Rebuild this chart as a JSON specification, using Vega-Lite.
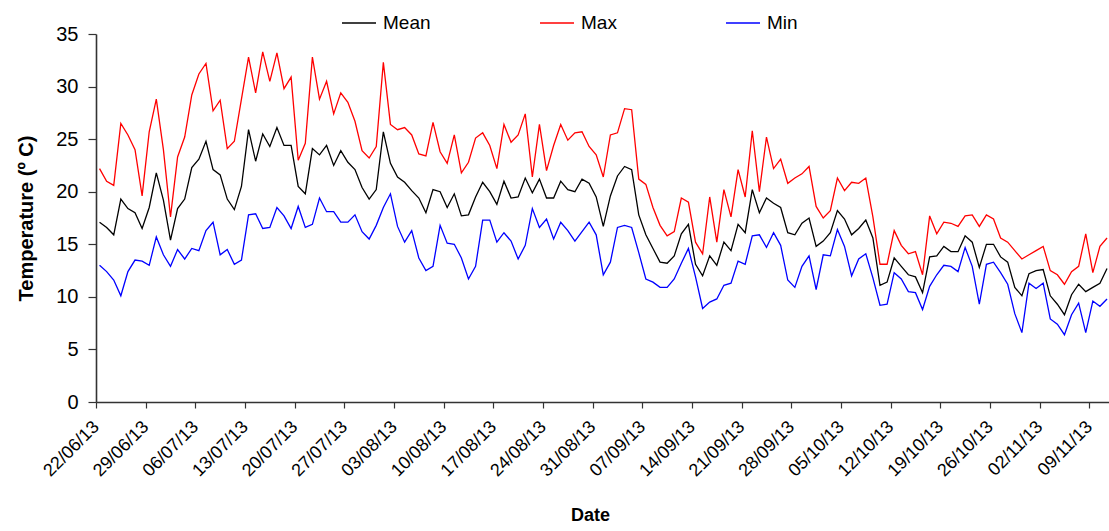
{
 "$schema": "https://vega.github.io/schema/vega-lite/v6.json",
 "width": 1013,
 "height": 368,
 "autosize": {"type": "none"},
 "padding": {"left": 96, "top": 34, "right": 0, "bottom": 129},
 "background": "white",
 "config": {"view": {"stroke": null}, "font": "Liberation Sans"},
 "data": {"values": [
  {"d":"2013-06-22T12:00","Mean":17.1,"Max":22.2,"Min":13.0},
  {"d":"2013-06-23T12:00","Mean":16.6,"Max":21.0,"Min":12.4},
  {"d":"2013-06-24T12:00","Mean":15.9,"Max":20.6,"Min":11.6},
  {"d":"2013-06-25T12:00","Mean":19.3,"Max":26.5,"Min":10.1},
  {"d":"2013-06-26T12:00","Mean":18.4,"Max":25.4,"Min":12.4},
  {"d":"2013-06-27T12:00","Mean":18.0,"Max":24.0,"Min":13.5},
  {"d":"2013-06-28T12:00","Mean":16.5,"Max":19.6,"Min":13.4},
  {"d":"2013-06-29T12:00","Mean":18.5,"Max":25.7,"Min":13.0},
  {"d":"2013-06-30T12:00","Mean":21.8,"Max":28.8,"Min":15.7},
  {"d":"2013-07-01T12:00","Mean":19.2,"Max":24.0,"Min":14.0},
  {"d":"2013-07-02T12:00","Mean":15.4,"Max":17.6,"Min":12.9},
  {"d":"2013-07-03T12:00","Mean":18.4,"Max":23.3,"Min":14.5},
  {"d":"2013-07-04T12:00","Mean":19.3,"Max":25.2,"Min":13.6},
  {"d":"2013-07-05T12:00","Mean":22.3,"Max":29.2,"Min":14.6},
  {"d":"2013-07-06T12:00","Mean":23.1,"Max":31.2,"Min":14.4},
  {"d":"2013-07-07T12:00","Mean":24.8,"Max":32.2,"Min":16.3},
  {"d":"2013-07-08T12:00","Mean":22.1,"Max":27.7,"Min":17.1},
  {"d":"2013-07-09T12:00","Mean":21.6,"Max":28.7,"Min":14.0},
  {"d":"2013-07-10T12:00","Mean":19.3,"Max":24.1,"Min":14.5},
  {"d":"2013-07-11T12:00","Mean":18.3,"Max":24.8,"Min":13.1},
  {"d":"2013-07-12T12:00","Mean":20.5,"Max":28.8,"Min":13.5},
  {"d":"2013-07-13T12:00","Mean":25.9,"Max":32.8,"Min":17.8},
  {"d":"2013-07-14T12:00","Mean":22.9,"Max":29.4,"Min":17.9},
  {"d":"2013-07-15T12:00","Mean":25.5,"Max":33.3,"Min":16.5},
  {"d":"2013-07-16T12:00","Mean":24.3,"Max":30.5,"Min":16.6},
  {"d":"2013-07-17T12:00","Mean":26.1,"Max":33.2,"Min":18.5},
  {"d":"2013-07-18T12:00","Mean":24.4,"Max":29.8,"Min":17.7},
  {"d":"2013-07-19T12:00","Mean":24.4,"Max":30.9,"Min":16.5},
  {"d":"2013-07-20T12:00","Mean":20.5,"Max":23.0,"Min":18.6},
  {"d":"2013-07-21T12:00","Mean":19.8,"Max":24.6,"Min":16.6},
  {"d":"2013-07-22T12:00","Mean":24.1,"Max":32.8,"Min":16.9},
  {"d":"2013-07-23T12:00","Mean":23.5,"Max":28.8,"Min":19.4},
  {"d":"2013-07-24T12:00","Mean":24.4,"Max":30.5,"Min":18.1},
  {"d":"2013-07-25T12:00","Mean":22.5,"Max":27.4,"Min":18.1},
  {"d":"2013-07-26T12:00","Mean":23.9,"Max":29.4,"Min":17.1},
  {"d":"2013-07-27T12:00","Mean":22.8,"Max":28.5,"Min":17.1},
  {"d":"2013-07-28T12:00","Mean":22.1,"Max":26.7,"Min":17.8},
  {"d":"2013-07-29T12:00","Mean":20.4,"Max":23.9,"Min":16.2},
  {"d":"2013-07-30T12:00","Mean":19.3,"Max":23.2,"Min":15.5},
  {"d":"2013-07-31T12:00","Mean":20.2,"Max":24.3,"Min":16.8},
  {"d":"2013-08-01T12:00","Mean":25.7,"Max":32.3,"Min":18.5},
  {"d":"2013-08-02T12:00","Mean":22.7,"Max":26.4,"Min":19.8},
  {"d":"2013-08-03T12:00","Mean":21.4,"Max":25.9,"Min":16.7},
  {"d":"2013-08-04T12:00","Mean":20.9,"Max":26.1,"Min":15.2},
  {"d":"2013-08-05T12:00","Mean":20.1,"Max":25.4,"Min":16.3},
  {"d":"2013-08-06T12:00","Mean":19.4,"Max":23.6,"Min":13.7},
  {"d":"2013-08-07T12:00","Mean":18.0,"Max":23.4,"Min":12.5},
  {"d":"2013-08-08T12:00","Mean":20.2,"Max":26.6,"Min":12.9},
  {"d":"2013-08-09T12:00","Mean":20.0,"Max":23.8,"Min":16.8},
  {"d":"2013-08-10T12:00","Mean":18.5,"Max":22.7,"Min":15.1},
  {"d":"2013-08-11T12:00","Mean":19.8,"Max":25.4,"Min":15.0},
  {"d":"2013-08-12T12:00","Mean":17.7,"Max":21.8,"Min":13.7},
  {"d":"2013-08-13T12:00","Mean":17.8,"Max":22.8,"Min":11.7},
  {"d":"2013-08-14T12:00","Mean":19.5,"Max":25.1,"Min":12.9},
  {"d":"2013-08-15T12:00","Mean":20.9,"Max":25.6,"Min":17.3},
  {"d":"2013-08-16T12:00","Mean":20.0,"Max":24.4,"Min":17.3},
  {"d":"2013-08-17T12:00","Mean":18.8,"Max":22.2,"Min":15.2},
  {"d":"2013-08-18T12:00","Mean":21.0,"Max":26.4,"Min":16.1},
  {"d":"2013-08-19T12:00","Mean":19.4,"Max":24.7,"Min":15.3},
  {"d":"2013-08-20T12:00","Mean":19.5,"Max":25.4,"Min":13.6},
  {"d":"2013-08-21T12:00","Mean":21.3,"Max":27.4,"Min":14.9},
  {"d":"2013-08-22T12:00","Mean":19.9,"Max":21.4,"Min":18.4},
  {"d":"2013-08-23T12:00","Mean":21.2,"Max":26.4,"Min":16.6},
  {"d":"2013-08-24T12:00","Mean":19.4,"Max":22.0,"Min":17.4},
  {"d":"2013-08-25T12:00","Mean":19.4,"Max":24.4,"Min":15.5},
  {"d":"2013-08-26T12:00","Mean":21.0,"Max":26.4,"Min":17.1},
  {"d":"2013-08-27T12:00","Mean":20.2,"Max":24.9,"Min":16.3},
  {"d":"2013-08-28T12:00","Mean":20.0,"Max":25.6,"Min":15.3},
  {"d":"2013-08-29T12:00","Mean":21.2,"Max":25.7,"Min":16.2},
  {"d":"2013-08-30T12:00","Mean":20.8,"Max":24.3,"Min":17.1},
  {"d":"2013-08-31T12:00","Mean":19.5,"Max":23.5,"Min":15.9},
  {"d":"2013-09-01T12:00","Mean":16.7,"Max":21.4,"Min":12.1},
  {"d":"2013-09-02T12:00","Mean":19.6,"Max":25.4,"Min":13.3},
  {"d":"2013-09-03T12:00","Mean":21.5,"Max":25.6,"Min":16.6},
  {"d":"2013-09-04T12:00","Mean":22.4,"Max":27.9,"Min":16.8},
  {"d":"2013-09-05T12:00","Mean":22.1,"Max":27.8,"Min":16.6},
  {"d":"2013-09-06T12:00","Mean":17.8,"Max":21.2,"Min":14.2},
  {"d":"2013-09-07T12:00","Mean":15.9,"Max":20.7,"Min":11.7},
  {"d":"2013-09-08T12:00","Mean":14.6,"Max":18.5,"Min":11.4},
  {"d":"2013-09-09T12:00","Mean":13.3,"Max":16.8,"Min":10.9},
  {"d":"2013-09-10T12:00","Mean":13.2,"Max":15.8,"Min":10.9},
  {"d":"2013-09-11T12:00","Mean":13.9,"Max":16.2,"Min":11.7},
  {"d":"2013-09-12T12:00","Mean":16.0,"Max":19.4,"Min":13.2},
  {"d":"2013-09-13T12:00","Mean":16.9,"Max":19.0,"Min":14.6},
  {"d":"2013-09-14T12:00","Mean":13.1,"Max":15.2,"Min":11.9},
  {"d":"2013-09-15T12:00","Mean":12.0,"Max":14.1,"Min":8.9},
  {"d":"2013-09-16T12:00","Mean":13.9,"Max":19.5,"Min":9.5},
  {"d":"2013-09-17T12:00","Mean":13.0,"Max":15.2,"Min":9.8},
  {"d":"2013-09-18T12:00","Mean":15.2,"Max":20.2,"Min":11.1},
  {"d":"2013-09-19T12:00","Mean":14.4,"Max":17.6,"Min":11.3},
  {"d":"2013-09-20T12:00","Mean":16.9,"Max":22.1,"Min":13.4},
  {"d":"2013-09-21T12:00","Mean":16.1,"Max":19.5,"Min":13.1},
  {"d":"2013-09-22T12:00","Mean":20.2,"Max":25.8,"Min":15.8},
  {"d":"2013-09-23T12:00","Mean":18.0,"Max":20.0,"Min":15.9},
  {"d":"2013-09-24T12:00","Mean":19.4,"Max":25.2,"Min":14.7},
  {"d":"2013-09-25T12:00","Mean":18.9,"Max":22.2,"Min":16.1},
  {"d":"2013-09-26T12:00","Mean":18.5,"Max":23.1,"Min":14.9},
  {"d":"2013-09-27T12:00","Mean":16.1,"Max":20.8,"Min":11.6},
  {"d":"2013-09-28T12:00","Mean":15.9,"Max":21.3,"Min":10.9},
  {"d":"2013-09-29T12:00","Mean":17.0,"Max":21.7,"Min":12.9},
  {"d":"2013-09-30T12:00","Mean":17.5,"Max":22.4,"Min":13.9},
  {"d":"2013-10-01T12:00","Mean":14.8,"Max":18.6,"Min":10.7},
  {"d":"2013-10-02T12:00","Mean":15.3,"Max":17.5,"Min":14.0},
  {"d":"2013-10-03T12:00","Mean":16.1,"Max":18.2,"Min":13.9},
  {"d":"2013-10-04T12:00","Mean":18.2,"Max":21.3,"Min":16.4},
  {"d":"2013-10-05T12:00","Mean":17.4,"Max":20.1,"Min":14.8},
  {"d":"2013-10-06T12:00","Mean":15.9,"Max":20.9,"Min":12.0},
  {"d":"2013-10-07T12:00","Mean":16.5,"Max":20.8,"Min":13.6},
  {"d":"2013-10-08T12:00","Mean":17.3,"Max":21.3,"Min":14.1},
  {"d":"2013-10-09T12:00","Mean":15.6,"Max":17.6,"Min":11.8},
  {"d":"2013-10-10T12:00","Mean":11.1,"Max":13.1,"Min":9.2},
  {"d":"2013-10-11T12:00","Mean":11.4,"Max":13.1,"Min":9.3},
  {"d":"2013-10-12T12:00","Mean":13.7,"Max":16.3,"Min":12.3},
  {"d":"2013-10-13T12:00","Mean":12.9,"Max":14.9,"Min":11.7},
  {"d":"2013-10-14T12:00","Mean":12.1,"Max":14.1,"Min":10.5},
  {"d":"2013-10-15T12:00","Mean":11.9,"Max":14.3,"Min":10.4},
  {"d":"2013-10-16T12:00","Mean":10.4,"Max":12.1,"Min":8.8},
  {"d":"2013-10-17T12:00","Mean":13.8,"Max":17.7,"Min":11.0},
  {"d":"2013-10-18T12:00","Mean":13.9,"Max":16.0,"Min":12.1},
  {"d":"2013-10-19T12:00","Mean":14.8,"Max":17.1,"Min":13.0},
  {"d":"2013-10-20T12:00","Mean":14.3,"Max":17.0,"Min":12.9},
  {"d":"2013-10-21T12:00","Mean":14.3,"Max":16.7,"Min":12.4},
  {"d":"2013-10-22T12:00","Mean":15.8,"Max":17.7,"Min":14.7},
  {"d":"2013-10-23T12:00","Mean":15.2,"Max":17.8,"Min":12.9},
  {"d":"2013-10-24T12:00","Mean":12.8,"Max":16.7,"Min":9.3},
  {"d":"2013-10-25T12:00","Mean":15.0,"Max":17.8,"Min":13.1},
  {"d":"2013-10-26T12:00","Mean":15.0,"Max":17.4,"Min":13.3},
  {"d":"2013-10-27T12:00","Mean":13.8,"Max":15.6,"Min":12.3},
  {"d":"2013-10-28T12:00","Mean":13.3,"Max":15.2,"Min":11.2},
  {"d":"2013-10-29T12:00","Mean":10.9,"Max":14.4,"Min":8.4},
  {"d":"2013-10-30T12:00","Mean":10.1,"Max":13.6,"Min":6.6},
  {"d":"2013-10-31T12:00","Mean":12.2,"Max":14.0,"Min":11.3},
  {"d":"2013-11-01T12:00","Mean":12.5,"Max":14.4,"Min":10.8},
  {"d":"2013-11-02T12:00","Mean":12.6,"Max":14.8,"Min":11.3},
  {"d":"2013-11-03T12:00","Mean":10.1,"Max":12.5,"Min":7.9},
  {"d":"2013-11-04T12:00","Mean":9.3,"Max":12.1,"Min":7.4},
  {"d":"2013-11-05T12:00","Mean":8.3,"Max":11.2,"Min":6.4},
  {"d":"2013-11-06T12:00","Mean":10.2,"Max":12.4,"Min":8.3},
  {"d":"2013-11-07T12:00","Mean":11.2,"Max":12.9,"Min":9.4},
  {"d":"2013-11-08T12:00","Mean":10.5,"Max":16.0,"Min":6.6},
  {"d":"2013-11-09T12:00","Mean":10.9,"Max":12.3,"Min":9.6},
  {"d":"2013-11-10T12:00","Mean":11.3,"Max":14.8,"Min":9.1},
  {"d":"2013-11-11T12:00","Mean":12.7,"Max":15.6,"Min":9.8}
 ]},
 "transform": [{"fold": ["Mean", "Max", "Min"], "as": ["series", "temp"]}],
 "mark": {"type": "line", "strokeWidth": 1.3, "clip": true},
 "encoding": {
  "x": {
   "field": "d", "type": "temporal",
   "scale": {"domain": [{"year": 2013, "month": "jun", "date": 22}, {"year": 2013, "month": "nov", "date": 11, "hours": 18, "minutes": 40}]},
   "axis": {
    "title": "Date",
    "values": [
     {"year": 2013, "month": "jun", "date": 22}, {"year": 2013, "month": "jun", "date": 29},
     {"year": 2013, "month": "jul", "date": 6}, {"year": 2013, "month": "jul", "date": 13},
     {"year": 2013, "month": "jul", "date": 20}, {"year": 2013, "month": "jul", "date": 27},
     {"year": 2013, "month": "aug", "date": 3}, {"year": 2013, "month": "aug", "date": 10},
     {"year": 2013, "month": "aug", "date": 17}, {"year": 2013, "month": "aug", "date": 24},
     {"year": 2013, "month": "aug", "date": 31}, {"year": 2013, "month": "sep", "date": 7},
     {"year": 2013, "month": "sep", "date": 14}, {"year": 2013, "month": "sep", "date": 21},
     {"year": 2013, "month": "sep", "date": 28}, {"year": 2013, "month": "oct", "date": 5},
     {"year": 2013, "month": "oct", "date": 12}, {"year": 2013, "month": "oct", "date": 19},
     {"year": 2013, "month": "oct", "date": 26}, {"year": 2013, "month": "nov", "date": 2},
     {"year": 2013, "month": "nov", "date": 9}
    ],
    "format": "%d/%m/%y",
    "labelAngle": -45, "labelAlign": "right", "labelBaseline": "middle",
    "labelFont": "Liberation Sans", "labelFontSize": 18, "labelColor": "#000000", "labelPadding": 16, "labelOverlap": false, "labelFlush": false,
    "tickSize": 6, "tickColor": "#333333", "tickWidth": 1.2,
    "domainColor": "#333333", "domainWidth": 1.6, "grid": false,
    "titleFontSize": 18, "titleFontWeight": "bold", "titleColor": "#000000",
    "titleX": 494, "titleY": 113, "titleAlign": "center", "titleBaseline": "middle"
   }
  },
  "y": {
   "field": "temp", "type": "quantitative",
   "scale": {"domain": [0, 35], "nice": false},
   "axis": {
    "title": "Temperature (º C)",
    "values": [0, 5, 10, 15, 20, 25, 30, 35],
    "labelFontSize": 20, "labelColor": "#000000", "labelPadding": 10,
    "tickSize": 8, "tickColor": "#333333", "tickWidth": 1.2,
    "domainColor": "#333333", "domainWidth": 1.6, "grid": false,
    "titleFontSize": 20, "titleFontWeight": "bold", "titleColor": "#000000",
    "titleX": -70, "titleY": 184, "titleAngle": -90, "titleAlign": "center", "titleBaseline": "middle"
   }
  },
  "color": {
   "field": "series", "type": "nominal",
   "scale": {"domain": ["Mean", "Max", "Min"], "range": ["#000000", "#FF0000", "#0000FF"]},
   "legend": {
    "orient": "none", "legendX": 245, "legendY": -29, "direction": "horizontal", "columns": 3,
    "title": null, "symbolType": "stroke", "symbolSize": 1156, "symbolStrokeWidth": 1.5,
    "labelFontSize": 19, "labelColor": "#000000", "labelOffset": 6, "columnPadding": 106, "padding": 0
   }
  }
 }
}
